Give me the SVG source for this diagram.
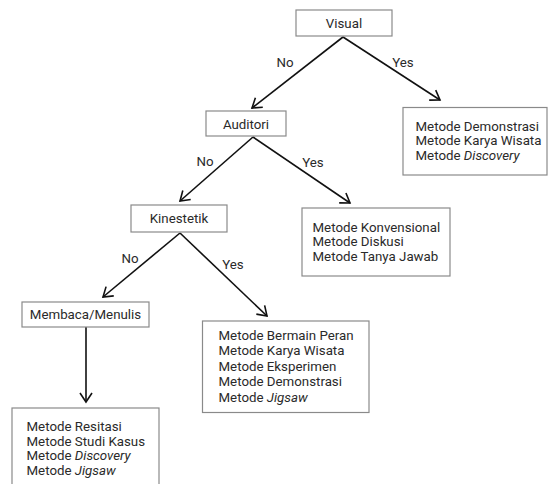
<svg xmlns="http://www.w3.org/2000/svg" width="550" height="484" viewBox="0 0 550 484">
<style>
text{font-family:Roboto,"Liberation Sans",sans-serif;font-size:13.3px;fill:#2a2a2a}
.box{fill:#fff;stroke:#8a8a8a;stroke-width:1.2}
.c{text-anchor:middle}
.ln{stroke:#111;stroke-width:1.6;fill:none;marker-end:url(#ah)}
.i{font-style:italic}
</style>
<defs>
<marker id="ah" markerUnits="userSpaceOnUse" markerWidth="20" markerHeight="20" refX="0" refY="0" viewBox="-12 -10 14 20" orient="auto" overflow="visible">
<path d="M-9,-6 L0,0 L-9,6" fill="none" stroke="#111" stroke-width="1.6"/>
</marker>
</defs>
<rect width="550" height="484" fill="#fff"/>
<g id="connectors">
<line class="ln" x1="343" y1="37" x2="252" y2="108"/>
<line class="ln" x1="343" y1="37" x2="440" y2="100"/>
<line class="ln" x1="253" y1="137" x2="180" y2="201"/>
<line class="ln" x1="253" y1="137" x2="350" y2="203"/>
<line class="ln" x1="180" y1="233" x2="103" y2="297"/>
<line class="ln" x1="180" y1="233" x2="267" y2="316"/>
<line class="ln" x1="86" y1="327" x2="86" y2="402"/>
<text class="c" x="285" y="67">No</text>
<text class="c" x="403" y="67">Yes</text>
<text class="c" x="205" y="166">No</text>
<text class="c" x="313" y="167">Yes</text>
<text class="c" x="130" y="263">No</text>
<text class="c" x="233" y="269">Yes</text>
</g>
<g id="visual">
<rect class="box" x="296" y="10" width="96" height="26"/>
<text class="c" x="344" y="28">Visual</text>
</g>
<g id="auditori">
<rect class="box" x="206" y="111" width="80" height="25"/>
<text class="c" x="246" y="128.5">Auditori</text>
</g>
<g id="kinestetik">
<rect class="box" x="131" y="205" width="96" height="27"/>
<text class="c" x="179" y="222.5">Kinestetik</text>
</g>
<g id="membaca">
<rect class="box" x="22" y="302" width="127" height="25"/>
<text class="c" x="85.5" y="319">Membaca/Menulis</text>
</g>
<g id="hasil-visual">
<rect class="box" x="403" y="107.5" width="144" height="67.5"/>
<text x="415.5" y="131">Metode Demonstrasi</text>
<text x="415.5" y="145">Metode Karya Wisata</text>
<text x="415.5" y="159.5">Metode <tspan class="i">Discovery</tspan></text>
</g>
<g id="hasil-auditori">
<rect class="box" x="302" y="208" width="148" height="68"/>
<text x="312.5" y="231.5">Metode Konvensional</text>
<text x="312.5" y="246">Metode Diskusi</text>
<text x="312.5" y="261">Metode Tanya Jawab</text>
</g>
<g id="hasil-kinestetik">
<rect class="box" x="202.5" y="321" width="166.5" height="91.5"/>
<text x="218.5" y="339.5">Metode Bermain Peran</text>
<text x="218.5" y="355">Metode Karya Wisata</text>
<text x="218.5" y="370.5">Metode Eksperimen</text>
<text x="218.5" y="386">Metode Demonstrasi</text>
<text x="218.5" y="401.5">Metode <tspan class="i">Jigsaw</tspan></text>
</g>
<g id="hasil-membaca">
<rect class="box" x="12" y="408" width="147" height="80"/>
<text x="26.5" y="431">Metode Resitasi</text>
<text x="26.5" y="445.5">Metode Studi Kasus</text>
<text x="26.5" y="460">Metode <tspan class="i">Discovery</tspan></text>
<text x="26.5" y="475">Metode <tspan class="i">Jigsaw</tspan></text>
</g>
</svg>
